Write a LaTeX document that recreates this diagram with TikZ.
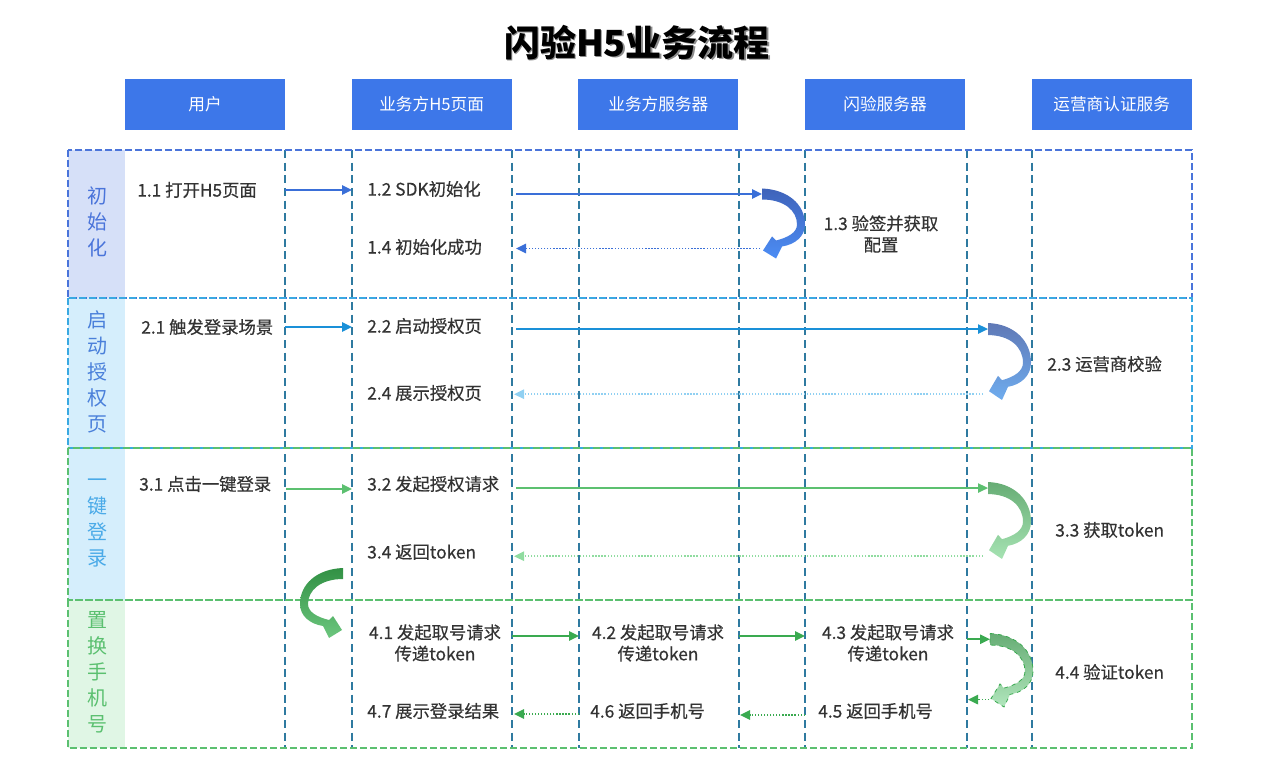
\documentclass[tikz,border=0pt]{standalone}
\usepackage{fontspec}
\setmainfont{Noto Sans CJK SC}
\newfontfamily\msgfont{Noto Sans CJK SC}[FakeBold=0.5]
\usetikzlibrary{calc}
\usetikzlibrary{positioning}
\usetikzlibrary{arrows.meta}

\definecolor{hdrblue}{HTML}{3D77E9}
\definecolor{lifeline}{HTML}{2F7AA0}
\definecolor{txtgray}{HTML}{333333}
\definecolor{sec1}{HTML}{4A74DA}
\definecolor{sec2}{HTML}{3AA9E2}
\definecolor{sec3}{HTML}{5BC070}
\definecolor{fill1}{HTML}{D6E0F8}
\definecolor{fill2}{HTML}{D5EEFC}
\definecolor{fill4}{HTML}{E0F6E5}
\definecolor{txt2}{HTML}{4A80DA}
\definecolor{txt3}{HTML}{4AAAE8}
\definecolor{a1}{HTML}{3A6FD8}
\definecolor{a1b}{HTML}{4C8DF5}
\definecolor{a2}{HTML}{1A90D8}
\definecolor{a2r}{HTML}{90D0F2}
\definecolor{a3}{HTML}{5CC070}
\definecolor{a3r}{HTML}{90DCA0}
\definecolor{a4}{HTML}{3AAA50}

% bent arrow: #1 name, #2 placement, #3 look
\newcommand{\turnarrow}[3]{%
  \begin{scope}[#2]
    \path[#3] (0,0) .. controls (26,1) and (43,16) .. (43,36)
      .. controls (43,48) and (33,56) .. (20,58) -- (14,70) -- (1,62)
      -- (10,48) -- (14,52) .. controls (26,49) and (35,44) .. (35,36)
      .. controls (35,22) and (22,11) .. (0,11) -- cycle;
    \coordinate (#1-in) at (0,5.5);
    \coordinate (#1-out) at (1,62);
  \end{scope}}

\begin{document}
\begin{tikzpicture}[x=0.75pt, y=-0.75pt,
  hdr/.style={rectangle, fill=hdrblue, text=white, minimum width=120pt, minimum height=38.25pt, inner sep=0pt, outer sep=0pt, font=\fontsize{12.5pt}{15pt}\selectfont},
  life/.style={draw=lifeline, line width=1.1pt, dash pattern=on 6pt off 3.5pt},
  lane/.style={line width=1.1pt, dash pattern=on 5pt off 2.5pt},
  msg/.style={anchor=west, text=txtgray, inner sep=0pt, font=\msgfont\fontsize{13pt}{16pt}\selectfont},
  msgc/.style={align=center, text=txtgray, inner sep=0pt, font=\msgfont\fontsize{13pt}{16pt}\selectfont},
  tag/.style={align=center, inner sep=0pt, font=\fontsize{15pt}{19.5pt}\selectfont},
  go/.style={line width=1.2pt, -{Triangle[length=7.5pt,width=7pt]}},
  back/.style={go, dash pattern=on 1pt off 1.3pt}]
\useasboundingbox (0,0) rectangle (1262,777);

% title
\node[text=black!45, font=\fontsize{27pt}{30pt}\selectfont\bfseries] at (638.5,44) {闪验H5业务流程};
\node[font=\fontsize{27pt}{30pt}\selectfont\bfseries] (title) at (637,42.5) {闪验H5业务流程};

% actors
\node[hdr] (user) at (205,104.5) {用户};
\node[hdr, right=50pt of user] (page) {业务方H5页面};
\node[hdr, right=50pt of page] (server) {业务方服务器};
\node[hdr, right=50pt of server] (sy) {闪验服务器};
\node[hdr, right=50pt of sy] (isp) {运营商认证服务};

% stage colour bands
\fill[fill1] (68,150) rectangle (125,298);
\fill[fill2] (68,298) rectangle (125,448);
\fill[fill2] (68,448) rectangle (125,600);
\fill[fill4] (68,600) rectangle (125,748);

% lifelines
\foreach \x [count=\i] in {285,352,512,579,739,805,967,1032}
  \draw[life] (\x,150) coordinate (L\i) -- (\x,748);

% stages
\draw[lane, draw=sec1] (68,150) rectangle (1192,298);
\draw[lane, draw=sec2] (68,298) rectangle (1192,448);
\draw[lane, draw=sec3] (68,448) rectangle (1192,600);
\draw[lane, draw=sec3] (68,600) rectangle (1192,748);
\node[tag, text=sec1] (s1) at (97,222) {初\\始\\化};
\node[tag, text=txt2] (s2) at (97,372) {启\\动\\授\\权\\页};
\node[tag, text=txt3] (s3) at (97,523) {一\\键\\登\\录};
\node[tag, text=sec3] (s4) at (97,672) {置\\换\\手\\机\\号};

% 1 init
\node[msg] (m11) at (137,190) {1.1 打开H5页面};
\node[msg] (m12) at (367,189) {1.2 SDK初始化};
\node[msgc] (m13) at (881,234) {1.3 验签并获取\\配置};
\node[msg] (m14) at (367,247) {1.4 初始化成功};
\draw[go, color=a1] (L1 |- m11) -- (L2 |- m11);
\turnarrow{r13}{shift={(762,188.5)}}{top color=sec1!85!black, bottom color=a1b}
\draw[go, color=a1] ($(L3 |- r13-in)+(4,0)$) -- (r13-in);
\draw[back, color=a1] ($(r13-out)+(-3,-2)$) -- ($(L3 |- r13-out)+(4,-2)$);

% 2 auth page
\node[msg] (m21) at (141,327) {2.1 触发登录场景};
\node[msg] (m22) at (367,326) {2.2 启动授权页};
\node[msg] (m23) at (1047,364) {2.3 运营商校验};
\node[msg] (m24) at (367,393) {2.4 展示授权页};
\draw[go, color=a2] (L1 |- m21) -- (L2 |- m21);
\turnarrow{r23}{shift={(988,323)}, yscale=1.1}{top color=sec1!60!gray, bottom color=a2r!60!hdrblue}
\draw[go, color=a2] ($(L3 |- r23-in)+(4,0)$) -- (r23-in);
\draw[back, color=a2r] ($(r23-out)+(-6,3)$) -- ($(L3 |- r23-out)+(2,3)$);

% 3 one-click login
\node[msg] (m31) at (139,484) {3.1 点击一键登录};
\node[msg] (m32) at (367,484) {3.2 发起授权请求};
\node[msg] (m33) at (1055,530) {3.3 获取token};
\node[msg] (m34) at (367,552) {3.4 返回token};
\draw[go, color=a3] ($(L1 |- m31)+(1,5)$) -- ($(L2 |- m31)+(0,5)$);
\turnarrow{r33}{shift={(988,482)}, yscale=1.1}{top color=a3!70!gray, bottom color=a3r!80!white}
\draw[go, color=a3] ($(L3 |- r33-in)+(4,0)$) -- (r33-in);
\draw[back, color=a3r] ($(r33-out)+(-6,6)$) -- ($(L3 |- r33-out)+(2,6)$);
\turnarrow{r41}{shift={(343,568)}, xscale=-1}{top color=a4!85!black, bottom color=a3!90!white}

% 4 phone number
\node[msgc] (m41) at (435,643) {4.1 发起取号请求\\传递token};
\node[msgc] (m42) at (658,643) {4.2 发起取号请求\\传递token};
\node[msgc] (m43) at (888,643) {4.3 发起取号请求\\传递token};
\node[msg] (m44) at (1055,672) {4.4 验证token};
\node[msg] (m45) at (818,711) {4.5 返回手机号};
\node[msg] (m46) at (590,711) {4.6 返回手机号};
\node[msg] (m47) at (367,711) {4.7 展示登录结果};
\draw[go, color=a4] ($(L3 |- m41)+(0,-7)$) -- ($(L4 |- m41)+(0,-7)$);
\draw[go, color=a4] ($(L5 |- m42)+(0,-7)$) -- ($(L6 |- m42)+(0,-7)$);
\turnarrow{r44}{shift={(990,633.5)}, yscale=1.05}{top color=a3!70!gray, bottom color=a3r!70!white, draw=a4, dashed, line width=0.6pt}
\draw[go, color=a4] (L7 |- r44-in) -- (r44-in);
\draw[back, color=a4] ($(r44-out)+(-2,1)$) -- ($(L7 |- r44-out)+(1,1)$);
\draw[back, color=a4] ($(L6 |- m45)+(0,4)$) -- ($(L5 |- m45)+(1,4)$);
\draw[back, color=a4] ($(L4 |- m46)+(0,3)$) -- ($(L3 |- m46)+(2,3)$);
\end{tikzpicture}
\end{document}
